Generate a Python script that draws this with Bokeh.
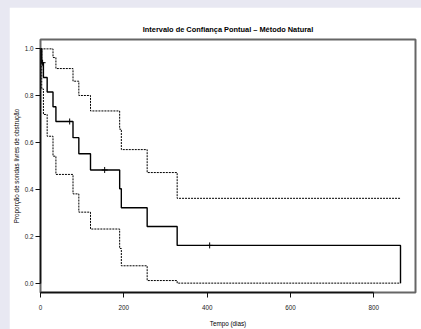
from bokeh.plotting import figure
from bokeh.models import FixedTicker, CustomJSTickFormatter
from bokeh.embed import file_html
from bokeh.resources import INLINE

# Kaplan-Meier estimate (time in days, survival proportion)
times = [0, 3, 7, 16, 30, 37, 78, 92, 120, 190, 194, 256, 328, 864]
surv = [1.0, 0.941, 0.878, 0.816, 0.753, 0.690, 0.621, 0.552, 0.483, 0.403, 0.322, 0.242, 0.161, 0.0]
upper = [1.0, 1.0, 1.0, 1.0, 0.963, 0.916, 0.862, 0.801, 0.735, 0.657, 0.570, 0.472, 0.362, 0.362]
lower = [1.0, 0.829, 0.720, 0.627, 0.542, 0.464, 0.381, 0.303, 0.231, 0.148, 0.074, 0.011, 0.0, 0.0]
cens_t = [5, 70, 154, 406]
cens_s = [0.941, 0.690, 0.483, 0.161]

x_ticks = [0, 200, 400, 600, 800]
y_ticks = [0.0, 0.2, 0.4, 0.6, 0.8, 1.0]

title = "Intervalo de Confiança Pontual – Método Natural"
xlab = "Tempo (dias)"
ylab = "Proporção de sondas livres de obstrução"

FONT = "Liberation Sans"

p = figure(width=412, height=322, output_backend="svg", toolbar_location=None,
           x_range=(0, 900), y_range=(-0.04, 1.04),
           min_border_left=31, min_border_right=6, min_border_top=32, min_border_bottom=34,
           title=title, margin=(7, 0, 0, 9))
p.background_fill_color = "white"
p.border_fill_color = "white"
p.outline_line_color = "#666666"
p.outline_line_width = 2
p.xgrid.visible = False
p.ygrid.visible = False

p.title.align = "center"
p.title.text_font = FONT
p.title.text_font_size = "7.4px"
p.title.text_font_style = "bold"
p.title.text_color = "black"
p.title.standoff = 11

for ax in (p.xaxis[0], p.yaxis[0]):
    ax.axis_line_color = "#111111"
    ax.axis_line_width = 1.5
    ax.major_tick_line_color = "#111111"
    ax.major_tick_line_width = 1
    ax.major_tick_out = 5
    ax.major_tick_in = 0
    ax.minor_tick_line_color = None
    ax.major_label_text_font = FONT
    ax.major_label_text_font_size = "6.3px"
    ax.major_label_text_color = "#222222"
    ax.axis_label_text_font = FONT
    ax.axis_label_text_font_size = "6.3px"
    ax.axis_label_text_font_style = "normal"
    ax.axis_label_text_color = "black"

p.xaxis.ticker = FixedTicker(ticks=x_ticks)
p.xaxis.bounds = (0, 800)
p.xaxis.axis_label = xlab
p.xaxis.major_label_standoff = 7
p.xaxis.axis_label_standoff = 7

p.yaxis.ticker = FixedTicker(ticks=y_ticks)
p.yaxis.bounds = (0, 1)
p.yaxis.axis_label = ylab
p.yaxis.formatter = CustomJSTickFormatter(code="return tick.toFixed(1);")
p.yaxis.major_label_orientation = "horizontal"
p.yaxis.major_label_standoff = 2
p.yaxis.axis_label_standoff = 2

p.step(times, upper, mode="after", line_color="black", line_width=1, line_dash="2 1")
p.step(times, lower, mode="after", line_color="black", line_width=1, line_dash="2 1")
p.step(times, surv, mode="after", line_color="black", line_width=1.4)
p.scatter(cens_t, cens_s, marker="cross", size=6, line_color="black", line_width=1)

html = file_html(p, INLINE)
html = html.replace("</head>", "<style>html,body{margin:0;padding:0;background:#e8e8f2;}</style></head>", 1)
open("out.html", "w").write(html)
